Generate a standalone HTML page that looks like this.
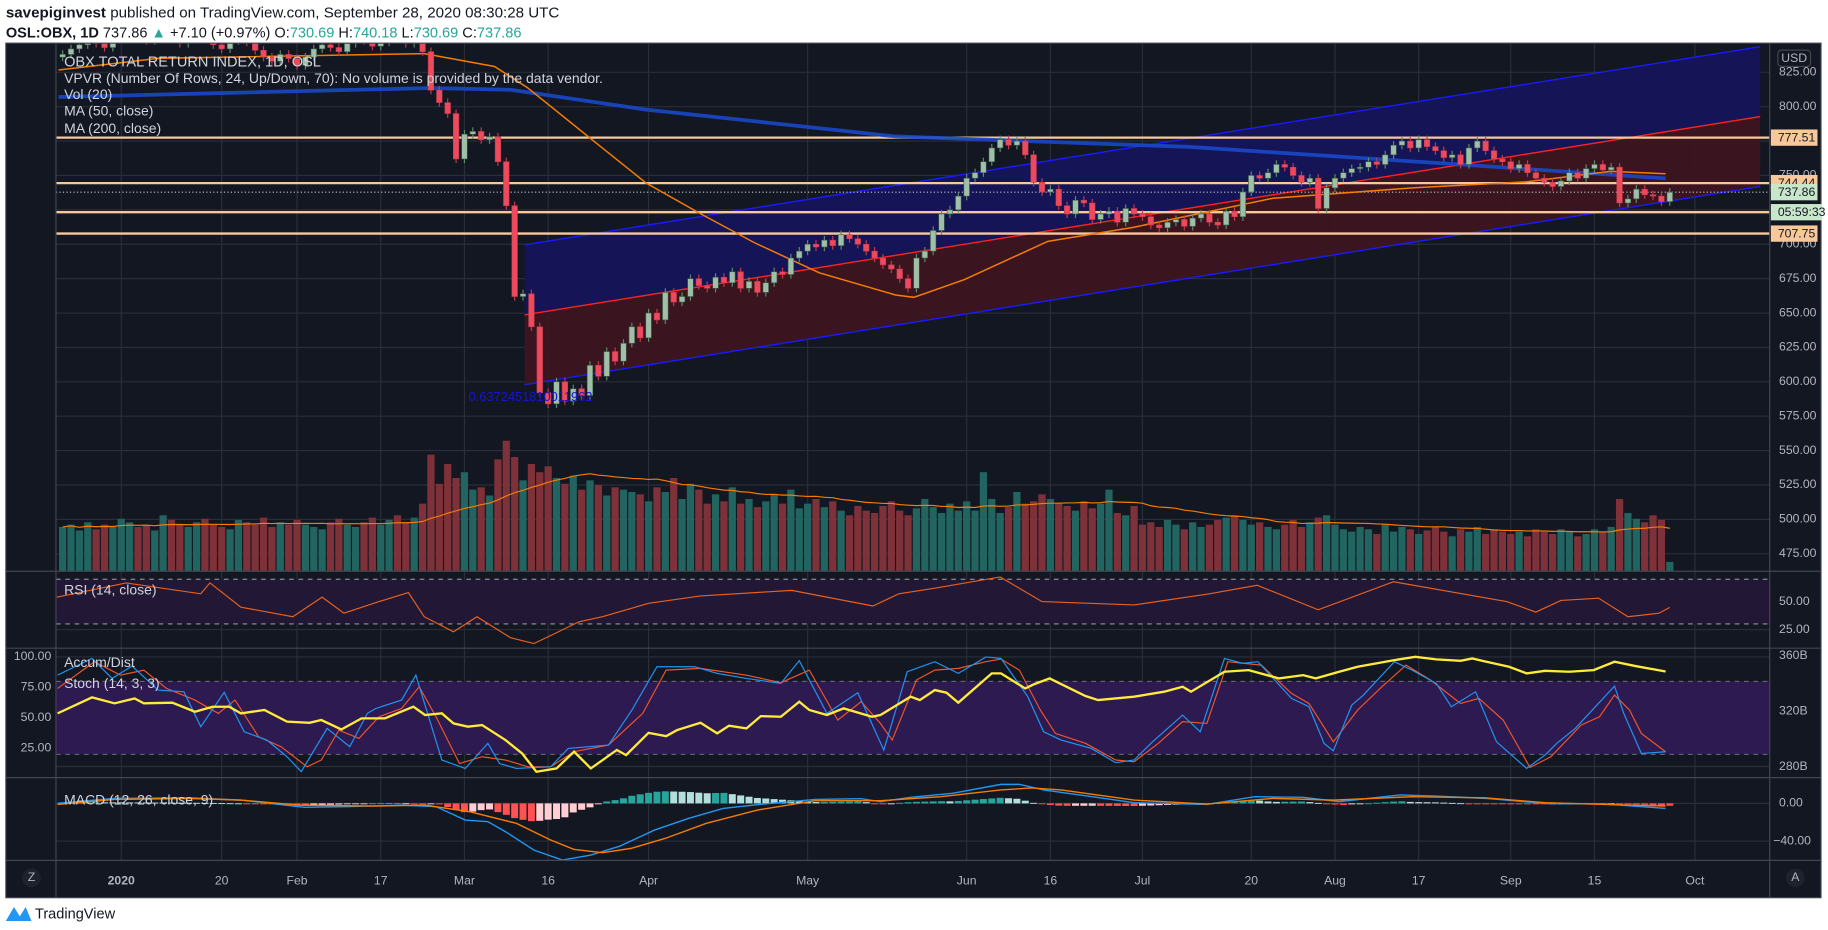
<!DOCTYPE html>
<html><head><meta charset="utf-8"><title>OBX chart</title>
<style>
html,body{margin:0;padding:0;background:#fff;width:1828px;height:930px;overflow:hidden;font-family:"Liberation Sans",sans-serif;}
svg{display:block}
</style></head>
<body>
<svg id="chart" xmlns="http://www.w3.org/2000/svg" width="1828" height="930" viewBox="0 0 1568 797.7" font-family="Liberation Sans, sans-serif">
<defs>
<clipPath id="mainClip"><rect x="48" y="37" width="1470" height="453"/></clipPath>
<clipPath id="lowClip"><rect x="48" y="490" width="1470" height="248"/></clipPath>
</defs>
<rect x="0" y="0" width="1568" height="798" fill="#ffffff"/>
<text x="5" y="15" font-size="13" fill="#131722"><tspan font-weight="bold">savepiginvest</tspan> published on TradingView.com, September 28, 2020 08:30:28 UTC</text>
<text x="5" y="32" font-size="12.5" fill="#131722"><tspan font-weight="bold">OSL:OBX, 1D</tspan> 737.86 <tspan fill="#26a69a">▲</tspan> +7.10 (+0.97%) O:<tspan fill="#26a69a">730.69</tspan> H:<tspan fill="#26a69a">740.18</tspan> L:<tspan fill="#26a69a">730.69</tspan> C:<tspan fill="#26a69a">737.86</tspan></text>
<rect x="5" y="37" width="1557" height="733" fill="#131722"/>
<g id="grid"></g>
<g id="main" clip-path="url(#mainClip)"></g>
<g id="low" clip-path="url(#lowClip)"></g>
<g id="axes"></g>
<g id="labels">
<text x="55" y="57" font-size="12.5" fill="#d1d4dc">OBX TOTAL RETURN INDEX, 1D, OSL</text>
<text x="55" y="71" font-size="12" fill="#d1d4dc">VPVR (Number Of Rows, 24, Up/Down, 70): No volume is provided by the data vendor.</text>
<text x="55" y="85" font-size="12" fill="#d1d4dc">Vol (20)</text>
<text x="55" y="99" font-size="12" fill="#d1d4dc">MA (50, close)</text>
<text x="55" y="114" font-size="12" fill="#d1d4dc">MA (200, close)</text>
<text x="55" y="510" font-size="12" fill="#d1d4dc">RSI (14, close)</text>
<text x="55" y="572" font-size="12" fill="#d1d4dc">Accum/Dist</text>
<text x="55" y="590" font-size="12" fill="#d1d4dc">Stoch (14, 3, 3)</text>
<text x="55" y="690" font-size="12" fill="#d1d4dc">MACD (12, 26, close, 9)</text>
<text x="402" y="344" font-size="11" fill="#1515d0">0.6372451810011962</text>
</g>
<g>
<path d="M5 790 L12 778 L17 786 L22 778 L27 790 Z" fill="#2196f3"/>
<text x="30" y="788" font-size="12.5" fill="#131722">TradingView</text>
</g>
</svg>
<script>
// ---------- data ----------
const closes = [838,842,845,848,846,843,849,
852,855,850,848,853,857,851,846,849,853,850,845,842,848,852,847,841,836,833,838,835,
830,836,842,845,843,840,846,850,848,844,847,852,849,846,850,840,812,803,795,762,
780,782,776,778,760,728,662,664,640,592,584,600,586,595,590,612,604,622,615,628,640,632,
650,645,665,658,662,675,670,668,676,672,680,668,673,665,672,680,678,690,695,
700,698,703,699,707,704,700,695,690,685,682,675,668,690,695,710,722,725,735,
748,752,760,770,776,772,775,765,745,738,740,728,722,732,730,718,722,724,716,726,722,
720,714,712,716,718,713,719,722,716,714,724,720,738,750,748,752,758,756,750,745,748,726,741,
748,752,755,756,760,758,765,772,775,770,776,771,768,763,765,758,770,775,768,762,760,
755,758,752,748,745,742,746,752,748,755,758,754,756,730,733,740,736,735,731,737.86];
const volumes = [38,40,35,42,36,40,38,
45,42,38,40,35,48,44,40,38,42,45,40,38,36,44,42,40,46,38,42,40,
44,40,38,36,42,45,40,38,42,46,40,44,48,42,46,58,100,75,92,80,
85,70,72,65,96,112,98,78,92,85,90,80,75,82,70,78,74,65,72,70,68,66,
60,72,68,80,62,75,70,58,66,60,72,58,62,55,60,66,58,70,54,
58,62,55,60,52,48,56,52,50,56,60,52,48,54,62,55,50,58,52,
60,52,85,62,50,55,68,58,60,66,62,58,56,52,60,54,58,70,50,48,56,
40,42,38,44,40,36,42,38,40,44,46,48,44,40,42,38,36,40,44,38,42,46,48,
40,36,34,38,36,32,40,34,38,36,32,35,38,34,30,36,34,38,32,36,34,
32,34,30,36,34,32,36,34,30,32,36,34,38,62,50,45,42,48,44,8];
const firstBar = -7;
const ma200Bars = [-7.5,36.8,46.5,62.7,92.5,127.6,157.7,184.5];
const ma200Vals = [807,813.6,812.3,797.9,778.4,770.8,758.9,747.9];
const ma50Bars = [-7.5,4.5,36.2,44.6,48.5,56.3,62.7,69.1,75.6,83.4,92.5,94.7,100.7,110.7,120.9,137.6,154.5,167.8,177.9,184.5];
const ma50Vals = [826.7,835.2,838.6,829.2,814,775.8,744.5,722.5,701.3,679.2,663.1,661.4,674.2,702.1,712.3,733.5,741.1,745.3,753,751.3];
const levelVals = [777.51,744.44,723.3,707.75];
const lastPrice = 737.86;
const channelBars = [48.2,195.8];
const channelUpper = [699.6,843.6];
const channelMid = [648.7,792.8];
const channelLower = [597.9,742.0];
const priceTicks = [825,800,775,750,725,700,675,650,625,600,575,550,525,500,475];
const rsiBars = [-7.7,0.6,9.5,10.6,14.3,20.5,24,26.6,30.8,34.3,36.2,39.7,42.5,46.5,49.3,51.4,54.7,57.5,63,69.2,80.1,89.8,92.9,97.2,105,110,121,130,135.7,143,152,165.5,169,172,176.5,180,183.7,185];
const rsiVals = [54,66.7,57,66.7,45,36.5,54,39.6,50,58,36.5,23,36.5,17.7,12.5,20,32,36.5,48.4,55,60,46,57,62,72,50,47,57,64.6,42.7,67.7,50,40.6,51,53,36.5,39.6,44.8];
const kBars = [-7.6,-3.5,-1.1,1.3,4.4,7.5,9.5,12.3,14.7,17.4,19.8,21.5,24.6,27.3,29.4,30.4,33.5,35.2,38.3,41.1,43.8,45.2,47.2,51.3,53.4,58.2,61,64,68.5,71.2,74.7,78.8,81,84.3,88,91.1,93.9,97.2,100,103.3,105.1,108.3,110.2,112.3,115.9,118.8,121,123.2,126.8,128.9,131.8,134,135.8,139.8,141.9,143.7,144.8,147,148.4,152.1,154.2,157.1,158.9,161.8,164.3,167.9,170.1,171.5,173.7,178.4,179.5,181.6,184.5];
const kVals = [85.1,98.8,82.4,92.5,72.8,71.4,42.7,70.9,38.5,31.7,18,5.7,41.3,26.2,53.6,57.7,64.6,85.1,15.3,8.4,29,12.5,8.4,9.8,24.8,27.6,56.3,92,92,86.5,82.4,78.3,96.9,53.6,70.6,23.5,87.8,96.1,86.5,100,98.8,67.3,38.5,31.7,24.8,13.1,15.3,30.3,52.2,38.5,98.8,94.7,96.1,65.9,59.1,28.9,22.9,60.4,68.7,96.1,89.2,78.3,59.1,71.4,30.3,8.4,19.4,29,41.3,76.1,53.6,20.7,22.1];
const dBars = [-7.6,-3.2,-0.1,2.7,5.4,8.8,11.6,13.6,16.4,19.1,22.2,23.9,26,28.4,30.8,33.5,35.6,37.6,40.4,43.1,45.9,48.6,51.3,54.1,58.2,62.3,65.1,69.2,74.7,78.8,82.2,85.6,88.4,90.7,92.1,95,97.2,100,103.3,105.1,107.3,109.8,111.6,115.2,118.8,121,123.9,126.8,129.7,132.2,136.2,139.8,141.9,144.8,147.7,150.6,153.5,156.4,160,162.2,165.1,168.3,170.8,174.4,176.6,178.4,180.2,181.6,184.5];
const dVals = [74.1,96.1,85.1,89.2,74.1,64.6,53.6,64.6,34.4,26.2,9.8,15.3,39.9,33,50.9,57.7,75.5,50.9,12.5,18,15.3,9.8,9.8,22.1,27.6,53.6,89.2,90.6,85.1,78.8,89.2,48.1,63.2,45.4,31.7,81,89.2,90.6,96.1,98.3,89.2,56.3,37.2,29,15.3,13.9,29,46.8,45.4,96.1,93.3,70,61.8,30.3,56.3,75.5,93.3,81,61.8,65.9,48.1,9.2,18,44,50.9,68.7,56.3,37.2,22.1];
const adBars = [-7.6,-3.5,-0.8,1.6,2.7,6.1,8.8,10.9,12.9,14.3,17.1,19.8,22.5,23.9,26.3,28.7,31.5,34.9,36.3,38.3,39.7,41.4,43.1,45.9,47.9,49.6,52,54.1,56.1,59.2,60.3,63,65.1,66.4,69.2,71.2,72.6,74.7,76.4,78.8,81,82.2,84.3,86.3,89.7,90.7,94.3,95.4,97.2,98.6,100,104,105.1,108,109.1,110.9,115.2,116.7,121,124.6,126.8,127.8,131.8,134.7,138.3,141.2,142.7,145.5,147.7,152.1,154.6,157.1,160,161.4,162.9,165.8,167.9,170.1,173,175.9,178.4,180.9,184.5];
const adVals = [318.4,329.9,325.6,329.2,325.6,326.1,319.6,323.2,323.2,318.4,320.8,312.4,311.6,313.6,306.8,314.8,314.8,323.2,317.2,318.4,311.2,308.8,310,299.2,289.5,276.3,278.7,290.8,278.7,292,288.3,304.4,302,306.4,311.6,304,309.5,307.6,316.4,316,326.8,320.8,317.2,322,316,317.2,330.4,328,335.2,333.3,326.1,347.2,347.2,336.4,339.5,343.6,330.9,328,330.4,334,337.6,334,348.4,349.6,343.6,346,343.6,348.4,352,356.8,359.2,357.3,356.3,358,355.9,352,347.2,349.1,348.4,349.6,355.6,352.5,348.6];
const macdBars = [-7.6,-0.8,8.1,14.3,21.9,26.7,33.5,37.6,41.1,43.8,45.9,49.3,52.7,56.1,59.6,63.7,67.8,71.9,76.7,82.9,88.4,90.7,94.3,99.3,105.1,107.3,110.2,116,121,129.7,135.4,141.2,145.5,152.8,157.1,162.9,170.1,177.3,184.5];
const macdVals = [0,5.3,6,3.5,-4.2,-3.5,-1.8,-3.5,-17.7,-19.5,-30.1,-49.6,-60.2,-54.9,-45.3,-28.3,-15.9,-5.3,-0.7,4.2,4.9,1.8,6.4,10.6,20.2,20.2,14.2,7.1,0.7,-1.1,7.1,6.4,1.8,8.9,7.8,5.3,0,-0.7,-5.3];
const sigBars = [-7.6,-0.8,8.1,14.3,21.2,30.1,36.3,41.7,47.2,51.3,54.1,57.5,60.9,65,69.9,76,82.9,90.7,97.9,105.1,108.7,112.3,121,129.7,137.6,144.8,154.2,162.9,170.1,177.3,184.5];
const sigVals = [-1.1,4.2,5.3,3.5,-1.8,-2.8,-1.8,-8.9,-21.2,-38.9,-48.9,-52.4,-47.8,-37.2,-21.2,-7.1,2.8,2.8,7.1,14.2,16.3,14.2,3.5,-0.7,5.3,3.5,7.1,6,0.7,-1.1,-2.8];
const tickBars = [0,12,21,31,41,51,63,82,101,111,122,135,145,155,166,176,188];
const tickLabels = ["2020","20","Feb","17","Mar","16","Apr","May","Jun","16","Jul","20","Aug","17","Sep","15","Oct"];

// ---------- scales ----------
const NS = "http://www.w3.org/2000/svg";
const xOf = i => 104 + 7.18 * i;
const pY = p => 62 + (825 - p) * 1.18;
const rsiY = v => 516 + (50 - v) * 0.96;
const stY = v => 563.5 + (100 - v) * 1.044;
const adY = a => 562.4 + (360 - a) * 1.19;
const macdY = v => 689.1 - v * 0.8075;
const volY = v => 490 - v;
function mk(tag, attrs, parent) {
  const e = document.createElementNS(NS, tag);
  for (const k in attrs) e.setAttribute(k, attrs[k]);
  parent.appendChild(e);
  return e;
}
function pathOf(bars, vals, yf) {
  return bars.map((b, k) => (k ? "L" : "M") + xOf(b).toFixed(1) + " " + yf(vals[k]).toFixed(1)).join(" ");
}
function interp(bars, vals, b) {
  if (b <= bars[0]) return vals[0];
  for (let k = 1; k < bars.length; k++) if (b <= bars[k]) {
    const t = (b - bars[k-1]) / (bars[k] - bars[k-1]);
    return vals[k-1] + t * (vals[k] - vals[k-1]);
  }
  return vals[vals.length - 1];
}
const grid = document.getElementById("grid");
const main = document.getElementById("main");
const low = document.getElementById("low");
const axes = document.getElementById("axes");

// ---------- grid ----------
tickBars.forEach(b => {
  const g = mk("line", {x1: xOf(b), x2: xOf(b), y1: 37, y2: 738, stroke: "#2a2e39", "stroke-width": 1}, grid);
  
  
});
priceTicks.forEach(p => {
  const g = mk("line", {x1: 48, x2: 1518, y1: pY(p), y2: pY(p), stroke: "#2a2e39", "stroke-width": 1}, grid);
  
  
});
[50, 25].forEach(v => {
  const g = mk("line", {x1: 48, x2: 1518, y1: rsiY(v), y2: rsiY(v), stroke: "#2a2e39"}, grid);
  
  
});
[100, 50, 10].forEach(v => {
  const g = mk("line", {x1: 48, x2: 1518, y1: stY(v), y2: stY(v), stroke: "#2a2e39"}, grid);
  
  
});
[0, -40].forEach(v => {
  const g = mk("line", {x1: 48, x2: 1518, y1: macdY(v), y2: macdY(v), stroke: "#2a2e39"}, grid);
  
  
});

// ---------- main pane ----------
const x0 = xOf(channelBars[0]), x1 = xOf(channelBars[1]);
const upBand = mk("polygon", {points: `${x0},${pY(channelUpper[0])} ${x1},${pY(channelUpper[1])} ${x1},${pY(channelMid[1])} ${x0},${pY(channelMid[0])}`, fill: "#14145a", "fill-opacity": 0.95}, main);


const loBand = mk("polygon", {points: `${x0},${pY(channelMid[0])} ${x1},${pY(channelMid[1])} ${x1},${pY(channelLower[1])} ${x0},${pY(channelLower[0])}`, fill: "#3c1520", "fill-opacity": 0.95}, main);


[[channelUpper, "#1a1aff", 'channel-upper-line'], [channelMid, "#ff2020", 'channel-mid-line'], [channelLower, "#1a1aff", 'channel-lower-line']].forEach(c => {
  const l = mk("line", {x1: x0, y1: pY(c[0][0]), x2: x1, y2: pY(c[0][1]), stroke: c[1], "stroke-width": 1.2}, main);
  
  
});

// volume
volumes.forEach((v, k) => {
  const i = firstBar + k;
  const o = k ? closes[k-1] : closes[0];
  const up = closes[k] >= o;
  const r = mk("rect", {x: xOf(i) - 3.1, y: volY(v), width: 6.2, height: v, fill: up ? "#22645f" : "#7e3138"}, main);
  
  
});
// volume MA 20
const vmaB = [], vmaV = [];
volumes.forEach((v, k) => {
  const s = volumes.slice(Math.max(0, k - 19), k + 1);
  vmaB.push(firstBar + k); vmaV.push(s.reduce((a, b) => a + b, 0) / s.length);
});
const vma = mk("path", {d: pathOf(vmaB, vmaV, volY), fill: "none", stroke: "#f57c00", "stroke-width": 1}, main);



// horizontal levels
levelVals.forEach(p => {
  const l = mk("line", {x1: 48, x2: 1518, y1: pY(p), y2: pY(p), stroke: "#f8c89a", "stroke-width": 2}, main);
  
  
});
const lp = mk("line", {x1: 48, x2: 1518, y1: pY(lastPrice), y2: pY(lastPrice), stroke: "#c8c8c8", "stroke-width": 1, "stroke-dasharray": "1 2"}, main);



// MAs
const m200 = mk("path", {d: pathOf(ma200Bars, ma200Vals, pY), fill: "none", stroke: "#1848c8", "stroke-width": 3.2, "stroke-opacity": 0.9}, main);


const m50 = mk("path", {d: pathOf(ma50Bars, ma50Vals, pY), fill: "none", stroke: "#f57c00", "stroke-width": 1.3}, main);



// candles
closes.forEach((c, k) => {
  const i = firstBar + k;
  const o = k ? closes[k-1] : c - 2;
  const up = c >= o;
  const col = up ? "#9fbfa8" : "#ee4a5e";
  const hi = Math.max(o, c) + 3, lo = Math.min(o, c) - 3;
  const w = mk("line", {x1: xOf(i), x2: xOf(i), y1: pY(hi), y2: pY(lo), stroke: up ? "#5f8a6c" : "#c43a4c", "stroke-width": 1}, main);
  
  
  const top = pY(Math.max(o, c)), bot = pY(Math.min(o, c));
  const b = mk("rect", {x: xOf(i) - 2.4, y: top, width: 4.8, height: Math.max(1, bot - top), fill: col, stroke: up ? "#3e5e4a" : "#c43a4c", "stroke-width": 0.5}, main);
  
  
});

// ---------- RSI ----------
const rsiBand = mk("rect", {x: 48, y: rsiY(70), width: 1470, height: rsiY(30) - rsiY(70), fill: "#221836"}, low);


[70, 30].forEach(v => {
  const l = mk("line", {x1: 48, x2: 1518, y1: rsiY(v), y2: rsiY(v), stroke: "#b2b5be", "stroke-dasharray": "4 4", "stroke-width": 0.8}, low);
  
  
});
const rsiL = mk("path", {d: pathOf(rsiBars, rsiVals, rsiY), fill: "none", stroke: "#e8601c", "stroke-width": 1}, low);



// ---------- Stoch / AD ----------
const stBand = mk("rect", {x: 48, y: stY(80), width: 1470, height: stY(20) - stY(80), fill: "#2d1a50"}, low);


[80, 20].forEach(v => {
  const l = mk("line", {x1: 48, x2: 1518, y1: stY(v), y2: stY(v), stroke: "#787b86", "stroke-dasharray": "4 4", "stroke-width": 0.8}, low);
  
  
});
const dL = mk("path", {d: pathOf(dBars, dVals, stY), fill: "none", stroke: "#f0552a", "stroke-width": 1}, low);


const kL = mk("path", {d: pathOf(kBars, kVals, stY), fill: "none", stroke: "#2196f3", "stroke-width": 1}, low);


const adL = mk("path", {d: pathOf(adBars, adVals, adY), fill: "none", stroke: "#ffeb3b", "stroke-width": 2}, low);



// ---------- MACD ----------
let prevH = 0;
for (let i = firstBar; i <= 185; i++) {
  const h = interp(macdBars, macdVals, i) - interp(sigBars, sigVals, i);
  const col = h >= 0 ? (h >= prevH ? "#26a69a" : "#b2dfdb") : (h <= prevH ? "#ff5252" : "#ffcdd2");
  const yA = macdY(Math.max(h, 0)), yB = macdY(Math.min(h, 0));
  const r = mk("rect", {x: xOf(i) - 3, y: yA, width: 6, height: Math.max(0.8, yB - yA), fill: col}, low);
  
  
  prevH = h;
}
const macdL = mk("path", {d: pathOf(macdBars, macdVals, macdY), fill: "none", stroke: "#2196f3", "stroke-width": 1.2}, low);


const sigL = mk("path", {d: pathOf(sigBars, sigVals, macdY), fill: "none", stroke: "#f57c00", "stroke-width": 1.2}, low);



// ---------- axes & separators ----------
[490, 556, 667, 738].forEach(y => {
  const l = mk("line", {x1: 5, x2: 1562, y1: y, y2: y, stroke: "#434651", "stroke-width": 1}, axes);
  
  
});
[48, 1518].forEach(x => {
  const l = mk("line", {x1: x, x2: x, y1: 37, y2: 770, stroke: "#434651", "stroke-width": 1}, axes);
  
  
});
const border = mk("rect", {x: 5, y: 37, width: 1557, height: 733, fill: "none", stroke: "#434651"}, axes);


function axText(x, y, s, name, anchor) {
  const t = mk("text", {x: x, y: y, "font-size": 10.5, fill: "#b2b5be", "text-anchor": anchor || "start", "dominant-baseline": "middle"}, axes);
  t.textContent = s;
  
  
  return t;
}
priceTicks.forEach(p => axText(1526, pY(p), p.toFixed(2), 'price-tick-label'));
[50, 25].forEach(v => axText(1526, rsiY(v), v.toFixed(2), 'rsi-tick-label'));
[360, 320, 280].forEach(v => axText(1526, adY(v), v + "B", 'accum-dist-tick-label'));
[0, -40].forEach(v => axText(v < 0 ? 1521 : 1526, macdY(v), v < 0 ? "\u221240.00" : "0.00", 'macd-tick-label'));
[100, 75, 50, 25].forEach(v => axText(44, stY(v), v.toFixed(2), 'stoch-tick-label', 'end'));
tickBars.forEach((b, k) => {
  const t = axText(xOf(b), 756, tickLabels[k], 'time-tick-label', 'middle');
  if (tickLabels[k] === "2020") t.setAttribute("font-weight", "bold");
});
// price boxes
function priceBox(p, s, bg, name, w) {
  const y = pY(p);
  const r = mk("rect", {x: 1519, y: y - 7, width: w || 40, height: 14, fill: bg}, axes);
  
  
  const t = mk("text", {x: 1525, y: y + 0.5, "font-size": 10.5, fill: "#131722", "dominant-baseline": "middle"}, axes);
  t.textContent = s;
  
  
}
priceBox(levelVals[0], "777.51", "#f8c89a", 'level-777-label');
priceBox(levelVals[1], "744.44", "#f8c89a", 'level-744-label');
priceBox(levelVals[3], "707.75", "#f8c89a", 'level-707-label');
priceBox(lastPrice, "737.86", "#c8e6c9", 'last-price-label');
priceBox(levelVals[2], "05:59:33", "#c8e6c9", 'countdown-label', 44);
// USD, Z, A buttons
const usd = mk("rect", {x: 1525, y: 43, width: 28, height: 14, rx: 3, fill: "#131722", stroke: "#434651"}, axes);


axText(1539, 50.5, "USD", 'currency-button-text', 'middle');
const z = mk("circle", {cx: 27, cy: 753, r: 8, fill: "#1e222d"}, axes);


axText(27, 753, "Z", 'zoom-reset-text', 'middle');
const a = mk("circle", {cx: 1540, cy: 753, r: 8, fill: "#1e222d"}, axes);


axText(1540, 753, "A", 'auto-scale-text', 'middle');
</script>
</body></html>
